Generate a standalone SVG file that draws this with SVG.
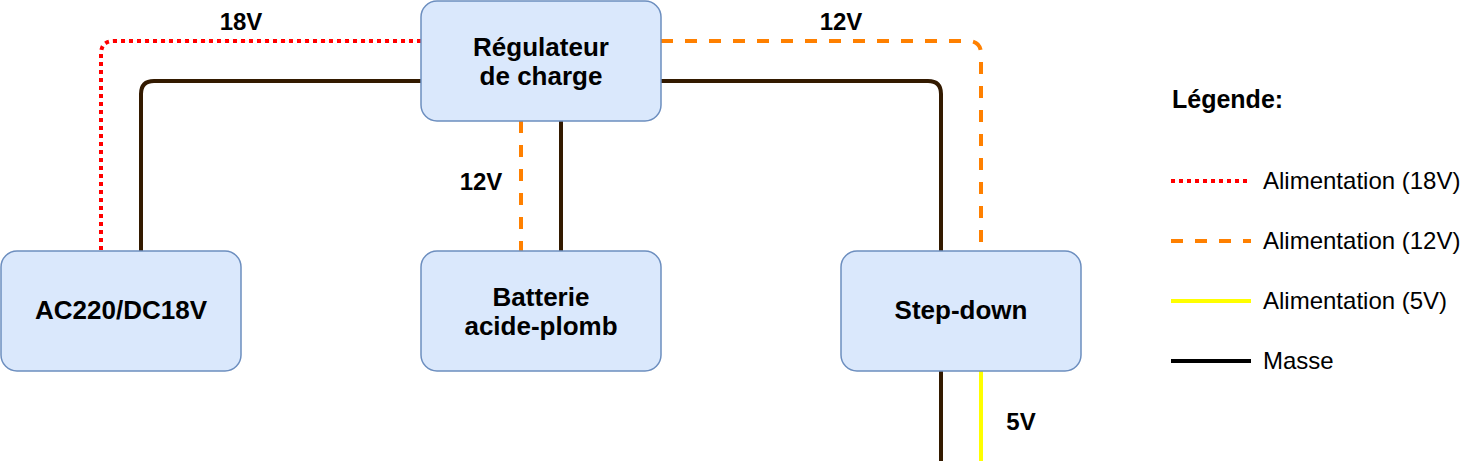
<svg xmlns="http://www.w3.org/2000/svg" width="1472" height="466" viewBox="0 0 1472 466">
<style>
.box{fill:#dae8fc;stroke:#6c8ebf;stroke-width:1.5}
.bt{font-family:"Liberation Sans",Arial,sans-serif;font-weight:bold;font-size:26px;fill:#000;text-anchor:middle}
.hd{font-family:"Liberation Sans",Arial,sans-serif;font-weight:bold;font-size:25px;fill:#000}
.lbl{font-family:"Liberation Sans",Arial,sans-serif;font-weight:bold;font-size:24px;fill:#000;text-anchor:middle}
.lt{font-family:"Liberation Sans",Arial,sans-serif;font-size:24px;fill:#000}
.w{fill:none;stroke-width:4}
.v18{stroke:#ff0000;stroke-dasharray:4 4}
.v12{stroke:#ff8000;stroke-dasharray:12 12}
.v5{stroke:#ffff00}
.gnd{stroke:#331a00}
</style>
<rect width="1472" height="466" fill="#ffffff"/>
<g id="connectors">
<path class="w v18" d="M421 41 H114 Q101 41 101 54 V251"/>
<path class="w gnd" d="M421 81 H154 Q141 81 141 94 V251"/>
<path class="w v12" d="M661 41 H968 Q981 41 981 54 V251"/>
<path class="w gnd" d="M661 81 H928 Q941 81 941 94 V251"/>
<path class="w v12" d="M521 121 V251"/>
<path class="w gnd" d="M561 121 V251"/>
<path class="w gnd" d="M941 371 V461"/>
<path class="w v5" d="M981 371 V461"/>
</g>
<g id="labels">
<text class="lbl" x="241" y="30">18V</text>
<text class="lbl" x="841" y="30">12V</text>
<text class="lbl" x="481" y="190">12V</text>
<text class="lbl" x="1021" y="430">5V</text>
</g>
<g id="regulateur">
<rect class="box" x="421" y="1" width="240" height="120" rx="16"/>
<text class="bt" x="541" y="56">Régulateur</text>
<text class="bt" x="541" y="85">de charge</text>
</g>
<g id="ac220">
<rect class="box" x="1" y="251" width="240" height="120" rx="16"/>
<text class="bt" x="121" y="319">AC220/DC18V</text>
</g>
<g id="batterie">
<rect class="box" x="421" y="251" width="240" height="120" rx="16"/>
<text class="bt" x="541" y="306">Batterie</text>
<text class="bt" x="541" y="335">acide-plomb</text>
</g>
<g id="stepdown">
<rect class="box" x="841" y="251" width="240" height="120" rx="16"/>
<text class="bt" x="961" y="319">Step-down</text>
</g>
<g id="legende">
<text class="hd" x="1172" y="108">Légende:</text>
<line class="w v18" x1="1171" y1="181" x2="1251" y2="181"/>
<text class="lt" x="1263" y="189">Alimentation (18V)</text>
<line class="w v12" x1="1171" y1="241" x2="1251" y2="241"/>
<text class="lt" x="1263" y="249">Alimentation (12V)</text>
<line class="w v5" x1="1171" y1="301" x2="1251" y2="301"/>
<text class="lt" x="1263" y="309">Alimentation (5V)</text>
<line class="w" stroke="#000000" x1="1171" y1="361" x2="1251" y2="361"/>
<text class="lt" x="1263" y="369">Masse</text>
</g>
</svg>
